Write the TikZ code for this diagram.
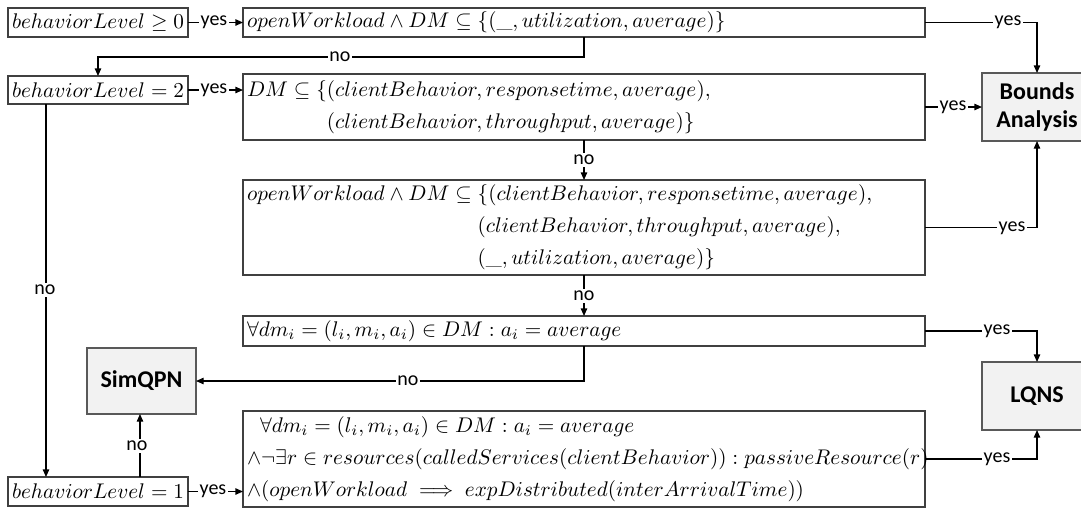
\RequirePackage{fix-cm}
\documentclass[tikz,border=0pt]{standalone}
\usepackage{amsmath,amssymb}
\usepackage{fontspec}
\newfontfamily\labelfont{Carlito}
\usetikzlibrary{arrows.meta}
\definecolor{edgegray}{HTML}{404040}
\definecolor{toolfill}{HTML}{F2F2F2}
\definecolor{tooledge}{HTML}{595959}

\begin{document}
\begin{tikzpicture}[x=0.5pt,y=-0.5pt,
  cond/.style={draw=edgegray, line width=0.65pt, anchor=north west, inner xsep=2pt,
    inner ysep=0pt, outer sep=0pt, font=\fontsize{10.6}{16}\selectfont},
  wide/.style={minimum width=341pt, text width=337pt, align=left},
  tool/.style={draw=tooledge, fill=toolfill, line width=0.65pt, anchor=north west,
    align=center, inner sep=0pt, outer sep=0pt,
    font=\labelfont\bfseries\fontsize{12}{13.8}\selectfont},
  flow/.style={line width=0.6pt, -{Triangle[length=3.8pt,width=3.2pt]}},
  lab/.style={font=\labelfont\fontsize{10}{11}\selectfont, fill=white, inner sep=0.8pt},
]
\useasboundingbox (0,0) rectangle (1081,510);

% condition boxes
\node[cond, minimum width=89pt, minimum height=14.5pt] (A) at (8,8)
  {$behaviorLevel \geq 0$};
\node[cond, wide, minimum height=14.5pt] (B) at (243,8)
  {\mbox{$openWorkload \wedge DM \subseteq \{(\text{\_}, utilization, average)\}$}};
\node[cond, minimum width=89pt, minimum height=14pt] (C) at (8,76)
  {$behaviorLevel = 2$};
\node[cond, wide, minimum height=33pt] (D) at (243,74)
  {\mbox{$DM \subseteq \{(clientBehavior, responsetime, average),$}\\
   \mbox{$\hphantom{DM\subseteq\{}(clientBehavior, throughput, average)\}$}};
\node[cond, wide, minimum height=47.5pt] (E) at (243,180)
  {\mbox{$openWorkload \wedge DM \subseteq \{(clientBehavior, responsetime, average),$}\\
   \mbox{$\hphantom{openWorkload \wedge DM \subseteq{}}(clientBehavior, throughput, average),$}\\
   \mbox{$\hphantom{openWorkload \wedge DM \subseteq{}}(\text{\_}, utilization, average)\}$}};
\node[cond, wide, minimum height=15pt] (F) at (243,316)
  {\mbox{$\forall dm_i = (l_i, m_i, a_i) \in DM : a_i = average$}};
\node[cond, minimum width=86.5pt, minimum height=14.5pt] (G) at (8,477)
  {$behaviorLevel = 1$};
\node[cond, wide, minimum height=48pt] (H) at (243,411)
  {\mbox{\hspace*{6.5pt}$\forall dm_i = (l_i, m_i, a_i) \in DM : a_i = average$}\\
   \mbox{$\wedge\neg\exists r \in resources(calledServices(clientBehavior)) : passiveResource(r)$}\\
   \mbox{$\wedge(openWorkload \implies expDistributed(interArrivalTime))$}};

% solvers
\node[tool, minimum width=55pt, minimum height=34pt] (BA) at (982,73) {Bounds\\Analysis};
\node[tool, minimum width=55pt, minimum height=34pt] (LQ) at (982,362) {LQNS};
\node[tool, minimum width=54.5pt, minimum height=33pt] (SQ) at (87,348) {SimQPN};

% connectors
\draw[flow] (A) -- (B);
\draw[flow] (B.south) -- ++(0,20) -| (C.north);
\draw[flow] (B.east) -| (BA.north);
\draw[flow] (C.east) -- (C.east -| D.west);
\draw[flow] (D) -- (BA);
\draw[flow] (D.south) -- (E.north);
\draw[flow] (E.east) -| (BA.south);
\draw[flow] (E.south) -- (F.north);
\draw[flow] (F.east) -| (LQ.north);
\draw[flow] (F.south) |- (SQ.east);
\draw[flow] ([xshift=-26pt]C.south) coordinate (c1) -- (c1 |- G.north);
\draw[flow] ([xshift=21pt]G.north) coordinate (g1) -- (g1 |- SQ.south);
\draw[flow] (G.east) -- (G.east -| H.west);
\draw[flow] (H.east) -| (LQ.south);

% branch labels
\node[lab] (l1) at (214,22) {yes};
\node[lab] (l2) at (340,57) {no};
\node[lab] (l3) at (1008,22) {yes};
\node[lab] (l4) at (214,90) {yes};
\node[lab] (l5) at (953,107) {yes};
\node[lab] (l6) at (584,160) {no};
\node[lab] (l7) at (1012,228) {yes};
\node[lab] (l8) at (584,296) {no};
\node[lab] (l9) at (997,331) {yes};
\node[lab] (l10) at (408,381) {no};
\node[lab] (l11) at (45,290) {no};
\node[lab] (l12) at (137,446) {no};
\node[lab] (l13) at (213,491) {yes};
\node[lab] (l14) at (997,459) {yes};
\end{tikzpicture}
\end{document}
